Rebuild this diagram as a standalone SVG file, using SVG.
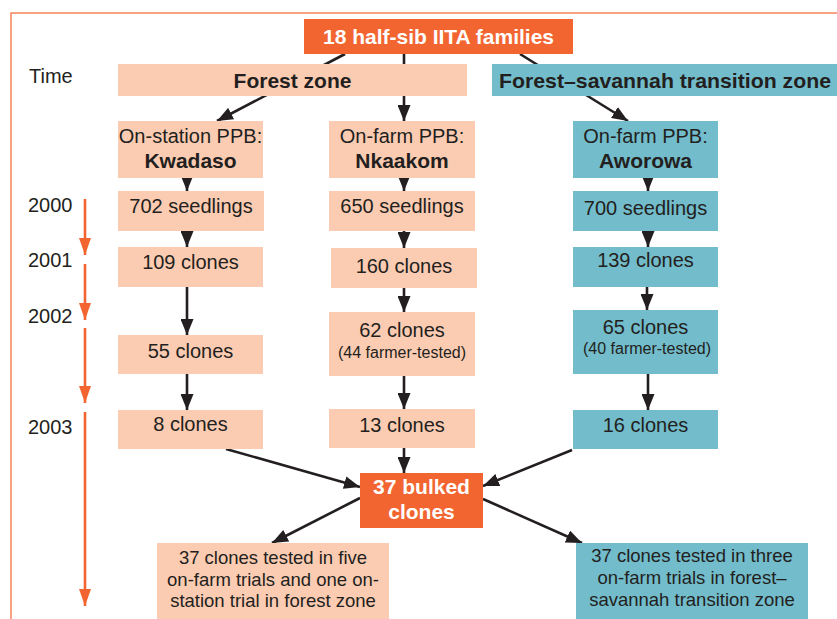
<svg xmlns="http://www.w3.org/2000/svg" width="837" height="619" viewBox="0 0 837 619">
<style>
.t{font-family:"Liberation Sans",Arial,sans-serif;fill:#231F20;font-size:20px}
.b{font-weight:bold;font-size:21px}
.w{fill:#FFFFFF}
.s{font-size:16px}
.m{font-size:18.5px}
.pe{fill:#FCCCB2}
.te{fill:#72BCCB}
.or{fill:#F26531}
.c{stroke:#231F20;stroke-width:2.6;fill:none;marker-end:url(#ah)}
.tl{stroke:#F26531;stroke-width:2.6;fill:none;marker-end:url(#oh)}
</style>
<defs>
<marker id="ah" markerUnits="userSpaceOnUse" markerWidth="16" markerHeight="13" refX="16" refY="6.5" orient="auto">
<path d="M0,0 L16,6.5 L0,13 z" fill="#231F20"/>
</marker>
<marker id="oh" markerUnits="userSpaceOnUse" markerWidth="17" markerHeight="12" refX="17" refY="6" orient="auto">
<path d="M0,0 L17,6 L0,12 z" fill="#F26531"/>
</marker>
</defs>
<rect width="837" height="619" fill="#FFFFFF"/>
<rect x="11" y="13" width="900" height="700" fill="none" stroke="#F26531" stroke-width="1.2"/>
<g id="timeline">
<text class="t" x="29" y="83">Time</text>
<text class="t" x="28" y="212">2000</text>
<text class="t" x="28" y="267">2001</text>
<text class="t" x="28" y="323">2002</text>
<text class="t" x="28" y="434">2003</text>
<line class="tl" x1="85" y1="199" x2="85" y2="255"/>
<line class="tl" x1="85" y1="264" x2="85" y2="320"/>
<line class="tl" x1="85" y1="328" x2="85" y2="403"/>
<line class="tl" x1="85" y1="412" x2="85" y2="606"/>
</g>
<g id="connectors">
<line class="c" x1="345" y1="54" x2="217" y2="121"/>
<line class="c" x1="404" y1="54" x2="404" y2="121"/>
<line class="c" x1="520" y1="54" x2="628" y2="121"/>
<line class="c" x1="187" y1="178" x2="187" y2="191"/>
<line class="c" x1="187" y1="231" x2="187" y2="247"/>
<line class="c" x1="187" y1="287" x2="187" y2="335"/>
<line class="c" x1="187" y1="374" x2="187" y2="410"/>
<line class="c" x1="404" y1="178" x2="404" y2="191"/>
<line class="c" x1="404" y1="231" x2="404" y2="248"/>
<line class="c" x1="404" y1="288" x2="404" y2="312"/>
<line class="c" x1="404" y1="376" x2="404" y2="409"/>
<line class="c" x1="404" y1="448" x2="404" y2="473"/>
<line class="c" x1="648" y1="178" x2="648" y2="191"/>
<line class="c" x1="648" y1="231" x2="648" y2="247"/>
<line class="c" x1="647" y1="287" x2="647" y2="310"/>
<line class="c" x1="648" y1="374" x2="648" y2="410"/>
<line class="c" x1="226" y1="449" x2="360" y2="487"/>
<line class="c" x1="572" y1="450" x2="483" y2="486"/>
<line class="c" x1="360" y1="498" x2="272" y2="543"/>
<line class="c" x1="483" y1="499" x2="582" y2="543"/>
</g>
<g id="n-families">
<rect class="or" x="304" y="19" width="269" height="35"/>
<text class="t b w" x="438.5" y="44" text-anchor="middle">18 half-sib IITA families</text>
</g>
<g id="n-forest">
<rect class="pe" x="118" y="64" width="349" height="32"/>
<text class="t b" x="292.5" y="88" text-anchor="middle">Forest zone</text>
</g>
<g id="n-fst">
<rect class="te" x="492" y="64" width="350" height="32"/>
<text class="t b" x="499" y="88" textLength="332" lengthAdjust="spacingAndGlyphs">Forest–savannah transition zone</text>
</g>
<g id="n-kwadaso">
<rect class="pe" x="118" y="121" width="145" height="57"/>
<text class="t" x="190.5" y="143" text-anchor="middle">On-station PPB:</text>
<text class="t b" x="190.5" y="168" text-anchor="middle">Kwadaso</text>
</g>
<g id="n-nkaakom">
<rect class="pe" x="329" y="121" width="146" height="57"/>
<text class="t" x="402" y="143" text-anchor="middle">On-farm PPB:</text>
<text class="t b" x="402" y="168" text-anchor="middle">Nkaakom</text>
</g>
<g id="n-aworowa">
<rect class="te" x="573" y="121" width="145" height="57"/>
<text class="t" x="645.5" y="143" text-anchor="middle">On-farm PPB:</text>
<text class="t b" x="645.5" y="168" text-anchor="middle">Aworowa</text>
</g>
<g id="n-702">
<rect class="pe" x="118" y="191" width="146" height="40"/>
<text class="t" x="191" y="213" text-anchor="middle">702 seedlings</text>
</g>
<g id="n-650">
<rect class="pe" x="329" y="191" width="146" height="40"/>
<text class="t" x="402" y="213" text-anchor="middle">650 seedlings</text>
</g>
<g id="n-700">
<rect class="te" x="573" y="191" width="145" height="40"/>
<text class="t" x="645.5" y="215" text-anchor="middle">700 seedlings</text>
</g>
<g id="n-109">
<rect class="pe" x="118" y="247" width="145" height="40"/>
<text class="t" x="190.5" y="269" text-anchor="middle">109 clones</text>
</g>
<g id="n-160">
<rect class="pe" x="331" y="248" width="146" height="40"/>
<text class="t" x="404" y="273" text-anchor="middle">160 clones</text>
</g>
<g id="n-139">
<rect class="te" x="573" y="247" width="145" height="40"/>
<text class="t" x="645.5" y="267" text-anchor="middle">139 clones</text>
</g>
<g id="n-55">
<rect class="pe" x="118" y="335" width="145" height="39"/>
<text class="t" x="190.5" y="358" text-anchor="middle">55 clones</text>
</g>
<g id="n-62">
<rect class="pe" x="329" y="312" width="146" height="64"/>
<text class="t" x="402" y="337" text-anchor="middle">62 clones</text>
<text class="t s" x="402" y="358" text-anchor="middle">(44 farmer-tested)</text>
</g>
<g id="n-65">
<rect class="te" x="573" y="310" width="145" height="64"/>
<text class="t" x="645.5" y="334" text-anchor="middle">65 clones</text>
<text class="t s" x="647" y="354" text-anchor="middle">(40 farmer-tested)</text>
</g>
<g id="n-8">
<rect class="pe" x="118" y="410" width="145" height="39"/>
<text class="t" x="190.5" y="431" text-anchor="middle">8 clones</text>
</g>
<g id="n-13">
<rect class="pe" x="329" y="409" width="146" height="39"/>
<text class="t" x="402" y="432" text-anchor="middle">13 clones</text>
</g>
<g id="n-16">
<rect class="te" x="573" y="410" width="145" height="39"/>
<text class="t" x="645.5" y="432" text-anchor="middle">16 clones</text>
</g>
<g id="n-bulked">
<rect class="or" x="360" y="473" width="123" height="55"/>
<text class="t b w" x="421.5" y="494" text-anchor="middle">37 bulked</text>
<text class="t b w" x="421.5" y="519" text-anchor="middle">clones</text>
</g>
<g id="n-forest-trials">
<rect class="pe" x="157" y="543" width="232" height="76"/>
<text class="t m" x="273" y="564" text-anchor="middle">37 clones tested in five</text>
<text class="t m" x="273" y="586" text-anchor="middle">on-farm trials and one on-</text>
<text class="t m" x="273" y="607" text-anchor="middle">station trial in forest zone</text>
</g>
<g id="n-fst-trials">
<rect class="te" x="576" y="543" width="232" height="76"/>
<text class="t m" x="692" y="562" text-anchor="middle">37 clones tested in three</text>
<text class="t m" x="692" y="584" text-anchor="middle">on-farm trials in forest–</text>
<text class="t m" x="692" y="606" text-anchor="middle">savannah transition zone</text>
</g>
</svg>
